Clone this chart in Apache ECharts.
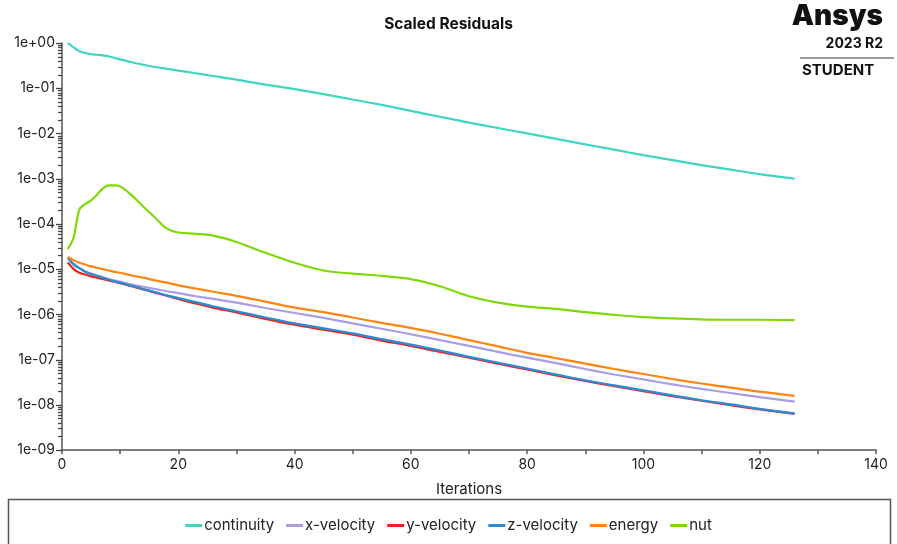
<!DOCTYPE html>
<html>
<head>
<meta charset="utf-8">
<script src="https://cdn.jsdelivr.net/npm/echarts@6/dist/echarts.min.js"></script>
<style>
html,body{margin:0;padding:0;background:#fff;}
#c{width:897px;height:544px;}
</style>
</head>
<body>
<div id="c"></div>
<script>
const iterations = [1,2,3,4,5,6,7,8,9,10,12,14,16,18,20,23,26,30,35,40,45,50,55,60,65,70,75,80,85,90,95,100,105,110,115,120,126];

const continuity = [1,0.80,0.66,0.60,0.565,0.55,0.535,0.51,0.47,0.435,0.375,0.331,0.295,0.269,0.245,0.214,0.186,0.155,0.120,0.0955,0.0741,0.0562,0.0427,0.0316,0.0234,0.0174,0.0132,0.01,0.00759,0.00575,0.00437,0.00331,0.00257,0.002,0.00158,0.00126,0.001];

const xVelocity = [1.82e-5,1.32e-5,1.05e-5,8.91e-6,7.94e-6,7.24e-6,6.61e-6,6.03e-6,5.62e-6,5.25e-6,4.57e-6,4.07e-6,3.63e-6,3.24e-6,2.95e-6,2.51e-6,2.19e-6,1.82e-6,1.38e-6,1.07e-6,8.32e-7,6.31e-7,4.79e-7,3.63e-7,2.69e-7,2.00e-7,1.48e-7,1.10e-7,8.32e-8,6.17e-8,4.68e-8,3.63e-8,2.82e-8,2.24e-8,1.82e-8,1.48e-8,1.17e-8];

const yVelocity = [1.41e-5,1.00e-5,8.32e-6,7.59e-6,6.92e-6,6.46e-6,6.03e-6,5.62e-6,5.25e-6,4.90e-6,4.17e-6,3.55e-6,3.02e-6,2.57e-6,2.19e-6,1.74e-6,1.41e-6,1.10e-6,7.94e-7,5.89e-7,4.57e-7,3.55e-7,2.63e-7,2.00e-7,1.48e-7,1.10e-7,8.13e-8,6.03e-8,4.47e-8,3.39e-8,2.57e-8,2.00e-8,1.55e-8,1.23e-8,9.77e-9,7.94e-9,6.31e-9];

const zVelocity = [1.78e-5,1.26e-5,1.05e-5,8.71e-6,7.76e-6,7.08e-6,6.46e-6,5.89e-6,5.37e-6,5.01e-6,4.27e-6,3.63e-6,3.09e-6,2.63e-6,2.29e-6,1.86e-6,1.51e-6,1.17e-6,8.51e-7,6.31e-7,4.90e-7,3.80e-7,2.82e-7,2.14e-7,1.58e-7,1.15e-7,8.51e-8,6.31e-8,4.68e-8,3.47e-8,2.69e-8,2.09e-8,1.62e-8,1.26e-8,1.02e-8,8.13e-9,6.46e-9];

const energy = [1.86e-5,1.58e-5,1.38e-5,1.26e-5,1.15e-5,1.07e-5,1.00e-5,9.33e-6,8.71e-6,8.32e-6,7.24e-6,6.46e-6,5.62e-6,5.01e-6,4.37e-6,3.72e-6,3.16e-6,2.57e-6,1.91e-6,1.41e-6,1.12e-6,8.51e-7,6.46e-7,5.01e-7,3.72e-7,2.69e-7,1.95e-7,1.41e-7,1.07e-7,8.13e-8,6.17e-8,4.79e-8,3.72e-8,2.95e-8,2.40e-8,1.95e-8,1.58e-8];

const nut = [2.75e-5,5.0e-5,2.09e-4,2.75e-4,3.31e-4,4.37e-4,6.03e-4,7.08e-4,7.08e-4,6.76e-4,4.27e-4,2.40e-4,1.38e-4,7.94e-5,6.46e-5,6.03e-5,5.5e-5,3.98e-5,2.29e-5,1.38e-5,9.33e-6,7.94e-6,7.08e-6,6.03e-6,4.17e-6,2.51e-6,1.82e-6,1.48e-6,1.32e-6,1.12e-6,9.77e-7,8.71e-7,8.13e-7,7.76e-7,7.59e-7,7.59e-7,7.41e-7];

const seriesNames = ['continuity','x-velocity','y-velocity','z-velocity','energy','nut'];
const seriesValues = [continuity, xVelocity, yVelocity, zVelocity, energy, nut];
const seriesColors = ['#3dd6c1','#a99de6','#f2201c','#2b8bd6','#ff8410','#7fd80a'];

const yTickValues = [1,1e-1,1e-2,1e-3,1e-4,1e-5,1e-6,1e-7,1e-8,1e-9];
const xTickLabels = [0,20,40,60,80,100,120,140];
const minorMultipliers = [2,3,4,5,6,7,8,9];

function fmtExp(v) {
  const e = Math.round(Math.log10(v));
  return '1e' + (e < 0 ? '-' : '+') + String(Math.abs(e)).padStart(2, '0');
}

const yTicks = yTickValues.map(v => [v, 1]);
yTickValues.forEach(v => { if (v < 1) minorMultipliers.forEach(m => yTicks.push([v * m, 0])); });

const FONT = 'Inter, "Noto Sans", sans-serif';
const chart = echarts.init(document.getElementById('c'), null, {renderer: 'canvas'});

const series = seriesNames.map((n, k) => ({
  name: n,
  type: 'line',
  data: iterations.map((it, i) => [it, seriesValues[k][i]]),
  showSymbol: false,
  smooth: 0.35,
  lineStyle: {width: 2.2, color: seriesColors[k]},
  itemStyle: {color: seriesColors[k]},
  z: 3
}));

const baseGraphic = [
  {type: 'rect', shape: {x: 8.5, y: 499.5, width: 882, height: 60}, style: {fill: 'none', stroke: '#555', lineWidth: 1.5}, z: 0},
  {type: 'text', right: 14, top: 3, style: {text: 'Ansys', fontFamily: FONT, fontSize: 28, fontWeight: 900, fill: '#111', textAlign: 'right'}},
  {type: 'text', right: 14, top: 37, style: {text: '2023 R2', fontFamily: FONT, fontSize: 14, fontWeight: 'bold', fill: '#111', textAlign: 'right'}},
  {type: 'line', shape: {x1: 800, y1: 58, x2: 894, y2: 58}, style: {stroke: '#777', lineWidth: 1.5}},
  {type: 'text', left: 802, top: 63, style: {text: 'STUDENT', fontFamily: FONT, fontSize: 15, fontWeight: 'bold', fill: '#111'}}
];

chart.setOption({
  animation: false,
  backgroundColor: '#ffffff',
  title: {
    text: 'Scaled Residuals',
    left: 'center',
    top: 11,
    textStyle: {fontFamily: FONT, fontSize: 15.5, fontWeight: 'bold', color: '#111'}
  },
  grid: {left: 62, right: 21, top: 43, bottom: 94, containLabel: false},
  xAxis: {
    type: 'value',
    min: 0, max: 140, interval: 10,
    name: 'Iterations',
    nameLocation: 'middle',
    nameGap: 32,
    nameTextStyle: {fontFamily: FONT, fontSize: 15, color: '#222'},
    axisLine: {show: true, lineStyle: {color: '#555', width: 1.5}},
    axisTick: {show: true, inside: false, length: 4, lineStyle: {color: '#555', width: 1.5}},
    axisLabel: {
      fontFamily: FONT, fontSize: 14, color: '#222', margin: 8,
      formatter: v => (xTickLabels.indexOf(v) >= 0 ? String(v) : '')
    },
    splitLine: {show: false}
  },
  yAxis: {
    type: 'log', logBase: 10, min: 1e-9, max: 1,
    axisLine: {show: true, onZero: false, lineStyle: {color: '#555', width: 1.5}},
    axisTick: {show: false},
    axisLabel: {fontFamily: FONT, fontSize: 14, color: '#222', margin: 7, formatter: fmtExp, customValues: yTickValues},
    splitLine: {show: false}
  },
  legend: {
    data: seriesNames,
    bottom: 6,
    left: 'center',
    icon: 'rect',
    itemWidth: 17,
    itemHeight: 3,
    itemGap: 12,
    textStyle: {fontFamily: FONT, fontSize: 15, color: '#222', padding: [0, 0, 0, -3]},
    selectedMode: false
  },
  graphic: baseGraphic,
  series: series
});

// y-axis tick marks placed through the chart's own log scale
const tickGraphics = [];
yTicks.forEach(t => {
  const p = chart.convertToPixel({gridIndex: 0}, [0, t[0]]);
  if (!p || !isFinite(p[0]) || !isFinite(p[1])) return;
  const len = t[1] ? 6 : 4;
  const yy = Math.round(p[1]) + 0.5;
  tickGraphics.push({type: 'line', silent: true, z: 10,
    shape: {x1: p[0] - len, y1: yy, x2: p[0], y2: yy},
    style: {stroke: '#444', lineWidth: 1.3}});
});
chart.setOption({graphic: baseGraphic.concat(tickGraphics)}, {replaceMerge: ['graphic']});
</script>
</body>
</html>
